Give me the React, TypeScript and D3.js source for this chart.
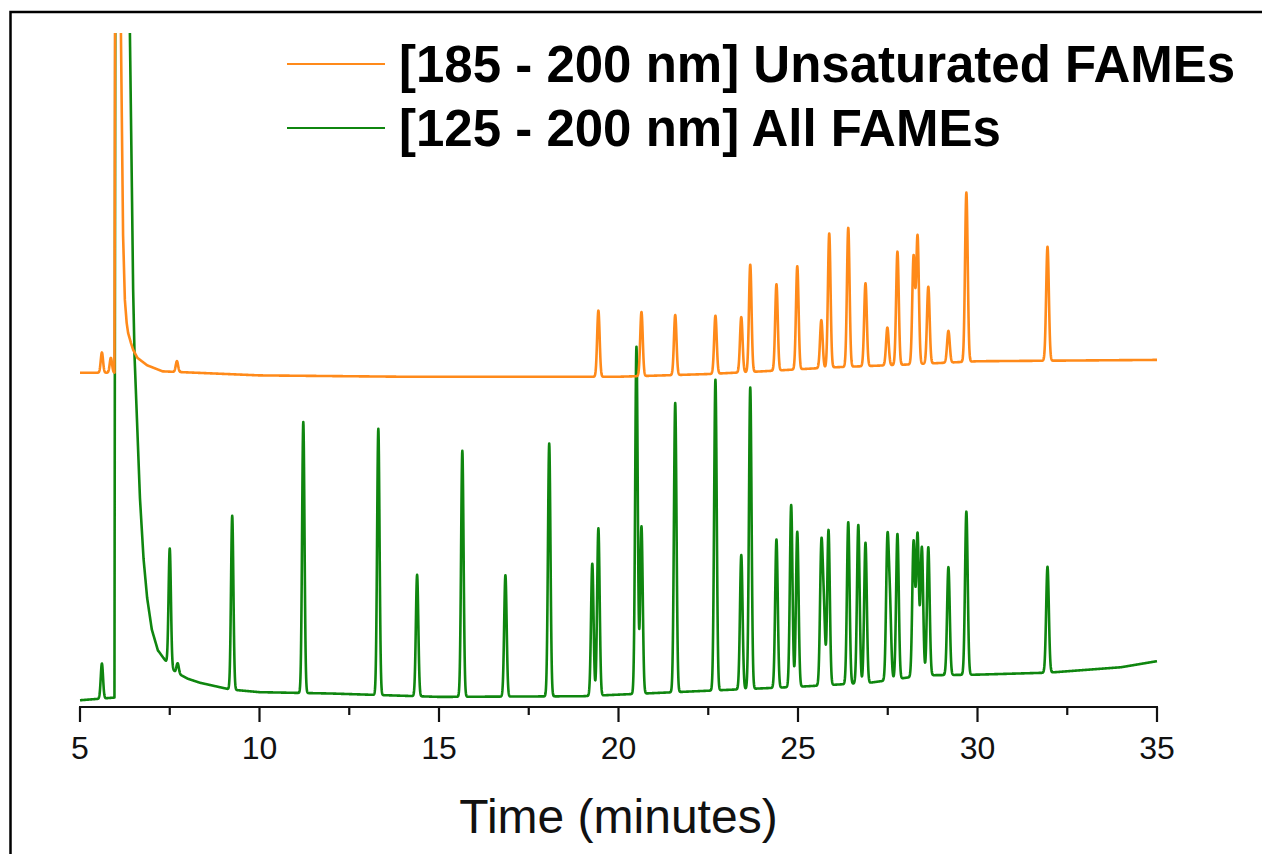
import React from 'react';
import * as d3 from 'd3';

// axis ticks (minutes)
const xTicks = [5, 10, 15, 20, 25, 30, 35];
const xMinorTicks = [7.5, 12.5, 17.5, 22.5, 27.5, 32.5];

const legendLabels = ['[185 - 200 nm] Unsaturated FAMEs', '[125 - 200 nm] All FAMEs'];

// baselines [minutes, signal] (solvent front included)
const greenBaseline: [number, number][] = [
  [5.0, 1.0], [5.96, 1.4], [5.99, 140], [6.3, 140], [6.39, 100], [6.45, 75],
  [6.48, 62], [6.52, 52], [6.57, 45], [6.67, 31], [6.77, 22], [6.87, 16.2],
  [7.0, 11.5], [7.17, 8.4], [7.42, 6.6], [7.65, 5.2], [8.0, 4.2], [8.34, 3.6],
  [9.18, 2.6], [10, 2.2], [12, 2.0], [15, 1.5], [19, 1.6], [22, 2.3], [25, 3.0],
  [27, 3.6], [28.5, 4.7], [30, 4.8], [32, 5.1], [33, 5.5], [34, 5.9], [35, 6.8],
];

const orangeBaseline: [number, number][] = [
  [5.0, 49.6], [5.96, 49.6], [5.99, 140], [6.1, 140], [6.14, 100], [6.2, 70],
  [6.25, 60.4], [6.3, 57], [6.34, 55.5], [6.42, 54], [6.48, 53.0], [6.6, 51.8],
  [6.87, 50.7], [7.3, 49.8], [10, 49.2], [14, 49.0], [20, 49.0], [22.5, 49.4],
  [24, 49.8], [26, 50.4], [28, 50.8], [30, 51.3], [35, 51.5],
];

// peaks [retention time, height above baseline]
const greenPeaks: [number, number][] = [
  [5.61, 5.2], [7.5, 17.4], [7.72, 1.5], [9.24, 25.8], [11.22, 40.2], [13.31, 39.5],
  [14.39, 18.0], [15.65, 36.5], [16.85, 18.0], [18.07, 37.5], [19.27, 19.6],
  [19.44, 24.8], [20.5, 51.5], [20.64, 24.8], [21.58, 42.9], [22.7, 46.1],
  [23.42, 19.9], [23.67, 44.7], [24.4, 22.0], [24.81, 27.0], [24.98, 23.0],
  [25.65, 20.0], [25.72, 10.5], [25.85, 23.0], [26.4, 24.0], [26.68, 23.5],
  [26.88, 20.8], [27.49, 20.0], [27.56, 10.5], [27.77, 21.5], [28.22, 20.0],
  [28.33, 21.0], [28.45, 19.0], [28.63, 19.0], [29.19, 16.0], [29.69, 24.2],
  [31.95, 15.7],
];

const orangePeaks: [number, number][] = [
  [5.61, 3.0], [5.86, 2.2], [7.7, 1.6], [19.44, 9.8], [20.64, 9.5], [21.58, 8.9],
  [22.7, 8.6], [23.42, 8.2], [23.67, 15.9], [24.4, 12.8], [24.98, 15.3],
  [25.65, 7.1], [25.87, 19.9], [26.4, 20.6], [26.88, 12.3], [27.49, 5.6],
  [27.77, 16.8], [28.22, 16.0], [28.33, 19.0], [28.63, 11.4], [29.19, 4.7],
  [29.69, 25.1], [31.95, 16.9],
];

const width = 1262;
const height = 854;
const margin = { left: 80, right: 105, top: 33, bottom: 147 };

// peaks get a little broader later in the run
const peakSigma = (t: number) => 0.032 + 0.0002 * (t - 5);

function buildTrace(baseline: [number, number][], peaks: [number, number][]) {
  const base = d3.scaleLinear()
    .domain(baseline.map(d => d[0]))
    .range(baseline.map(d => d[1]))
    .clamp(true);
  const times = d3.range(5, 35.0001, 0.005).concat(baseline.map(d => d[0]));
  times.sort((a, b) => a - b);
  return times.map(t => {
    let v = base(t);
    peaks.forEach(p => {
      const z = (t - p[0]) / peakSigma(p[0]);
      if (Math.abs(z) < 8) v += p[1] * Math.exp(-0.5 * z * z);
    });
    return [t, v] as [number, number];
  });
}

export default function App() {
  const x = d3.scaleLinear().domain([5, 35]).range([margin.left, width - margin.right]);
  const y = d3.scaleLinear().domain([0, 100]).range([height - margin.bottom, margin.top]);
  const axisY = height - margin.bottom;

  const line = d3.line<[number, number]>()
    .x(d => x(d[0]))
    .y(d => y(Math.min(d[1], 110)));

  const greenTrace = buildTrace(greenBaseline, greenPeaks);
  const orangeTrace = buildTrace(orangeBaseline, orangePeaks);

  const font = '"Liberation Sans", Arial, Helvetica, sans-serif';
  const green = '#0f860f';
  const orange = '#ff8a1a';

  return (
    <svg width={width} height={height} style={{ position: 'absolute', left: 0, top: 0, background: '#fff' }}>
      <defs>
        <clipPath id="plot-clip">
          <rect x={margin.left - 2} y={margin.top} width={width - margin.left - margin.right + 4} height={axisY - margin.top} />
        </clipPath>
      </defs>
      <rect x={0} y={0} width={width} height={height} fill="#fff" />
      {/* frame */}
      <rect x={10.5} y={12} width={width + 20} height={height + 20} fill="none" stroke="#000" strokeWidth={2.5} />

      <g clipPath="url(#plot-clip)">
        <path d={line(greenTrace) || ''} fill="none" stroke={green} strokeWidth={2.6} strokeLinejoin="round" />
        <path d={line(orangeTrace) || ''} fill="none" stroke={orange} strokeWidth={2.6} strokeLinejoin="round" />
      </g>

      {/* x axis */}
      <line x1={x(5) - 1} x2={x(35) + 1} y1={axisY} y2={axisY} stroke="#111" strokeWidth={2.2} />
      {xTicks.map(t => (
        <g key={t}>
          <line x1={x(t)} x2={x(t)} y1={axisY} y2={axisY + 15} stroke="#111" strokeWidth={2.2} />
          <text x={x(t)} y={759} textAnchor="middle" fontFamily={font} fontSize={32} fill="#111">{t}</text>
        </g>
      ))}
      {xMinorTicks.map(t => (
        <line key={t} x1={x(t)} x2={x(t)} y1={axisY} y2={axisY + 8} stroke="#111" strokeWidth={2.2} />
      ))}
      <text x={(x(5) + x(35)) / 2} y={833} textAnchor="middle" fontFamily={font} fontSize={48} fill="#111">Time (minutes)</text>

      {/* legend */}
      {legendLabels.map((label, i) => (
        <g key={label} transform={`translate(0, ${64 + i * 64})`}>
          <line x1={287} x2={385} y1={0} y2={0} stroke={i === 0 ? orange : green} strokeWidth={2.2} />
          <text x={399} y={18} fontFamily={font} fontWeight="bold" fontSize={51} fill="#000">{label}</text>
        </g>
      ))}
    </svg>
  );
}
